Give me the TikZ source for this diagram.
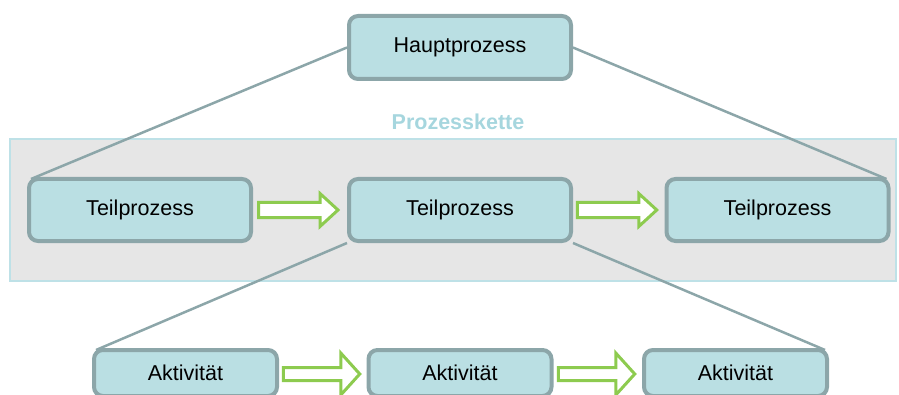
\documentclass[tikz,border=0pt]{standalone}
\usepackage{fontspec}
\setmainfont{Liberation Sans}
\usetikzlibrary{calc,backgrounds}
\definecolor{boxfill}{RGB}{186,223,227}
\definecolor{boxline}{RGB}{140,166,169}
\definecolor{bandfill}{RGB}{230,230,230}
\definecolor{bandline}{RGB}{190,225,231}
\definecolor{chaintext}{RGB}{166,214,222}
\definecolor{flowgreen}{RGB}{141,203,79}
\tikzset{
  procbox/.style={draw=boxline, fill=boxfill, line width=4pt, rounded corners=9pt,
    inner sep=0pt, font=\fontsize{21.5}{25}\selectfont},
  mainbox/.style={procbox, minimum width=222pt, minimum height=63pt},
  subbox/.style={procbox, minimum width=222pt, minimum height=62pt},
  actbox/.style={procbox, minimum width=183pt, minimum height=46pt},
  link/.style={draw=boxline, line width=2.5pt},
  flowline/.style={draw=flowgreen, fill=white, line width=3pt, line join=miter},
}
% block arrow centred on #1: left end, head base, tip, body half height, head half height
\newcommand\blockarrow[6]{%
  \draw[flowline] ($(#1)+(#2,#5)$) -- ($(#1)+(#3,#5)$) -- ($(#1)+(#3,#6)$)
    -- ($(#1)+(#4,0)$) -- ($(#1)+(#3,-#6)$) -- ($(#1)+(#3,-#5)$)
    -- ($(#1)+(#2,-#5)$) -- cycle;}
\begin{document}
\begin{tikzpicture}[x=1pt,y=1pt]
\useasboundingbox (0,0) rectangle (899,394);

% boxes
\node[mainbox] (main) at (460,346.5) {Hauptprozess};
\node[subbox] (t1) at (140,184) {Teilprozess};
\node[subbox] (t2) at (460,184) {Teilprozess};
\node[subbox] (t3) at (777.5,184) {Teilprozess};
\node[actbox] (a1) at (185.5,21) {Aktivität};
\node[actbox] (a2) at (460,21) {Aktivität};
\node[actbox] (a3) at (735.5,21) {Aktivität};

\begin{pgfonlayer}{background}
  % process chain band
  \draw[draw=bandline, fill=bandfill, line width=2pt] (10,113) rectangle (896,255);
  % decomposition lines
  \draw[link] (main.west) -- ([shift={(4,-2)}]t1.north west);
  \draw[link] (main.east) -- ([shift={(-4,-2)}]t3.north east);
  \draw[link] (t2.south west) -- ([shift={(4,-2)}]a1.north west);
  \draw[link] (t2.south east) -- ([shift={(-4,-2)}]a3.north east);
\end{pgfonlayer}

\node[font=\bfseries\fontsize{21.5}{25}\selectfont, text=chaintext] (chain) at (458,272) {Prozesskette};

% sequence arrows
\coordinate (m1) at ($(t1.east)!0.5!(t2.west)$);
\coordinate (m2) at ($(t2.east)!0.5!(t3.west)$);
\coordinate (m3) at ($(a1.east)!0.5!(a2.west)+(0,-1)$);
\coordinate (m4) at ($(a2.east)!0.5!(a3.west)+(0,-1)$);
\blockarrow{m1}{-41.5}{20}{38}{7.5}{16.5}
\blockarrow{m2}{-41.5}{20}{38}{7.5}{16.5}
\blockarrow{m3}{-39.5}{18}{37}{6.5}{21}
\blockarrow{m4}{-39.5}{18}{37}{6.5}{21}
\end{tikzpicture}
\end{document}
